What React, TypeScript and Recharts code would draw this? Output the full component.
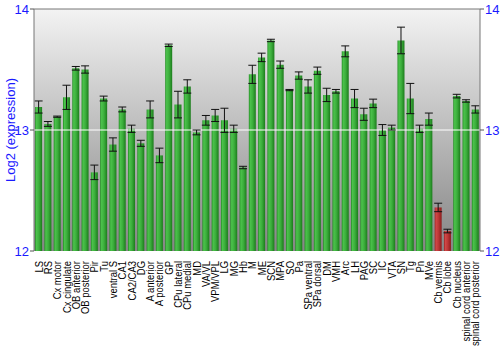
import { BarChart, Bar, XAxis, YAxis, ErrorBar, Cell, ReferenceLine, CartesianGrid } from "recharts";

const regions = [
  "LS", "RS", "Cx motor", "Cx cingulate", "OB anterior", "OB posterior", "Pir", "Tu",
  "ventral S", "CA1", "CA2/CA3", "DG", "A anterior", "A posterior", "GP", "CPu lateral",
  "CPu medial", "MD", "VA/VL", "VPM/VPL", "LG", "MG", "Hb", "M", "ME", "SCN", "MPA", "SO",
  "Pa", "SPa ventral", "SPa dorsal", "DM", "VMH", "Arc", "LH", "PAG", "SC", "IC", "VTA",
  "SN", "Tg", "Pn", "MVe", "Cb vermis", "Cb lobe", "Cb nucleus", "spinal cord anterior",
  "spinal cord posterior",
];

const expression = [
  13.19, 13.05, 13.11, 13.27, 13.51, 13.5, 12.65, 13.26,
  12.88, 13.17, 13.01, 12.89, 13.17, 12.79, 13.7, 13.21,
  13.36, 12.98, 13.08, 13.12, 13.08, 13.01, 12.69, 13.46, 13.6, 13.74, 13.54, 13.33,
  13.45, 13.36, 13.49, 13.29, 13.32, 13.65, 13.26, 13.13, 13.22, 13.0, 13.02,
  13.74, 13.26, 13.01, 13.09, 12.36, 12.165, 13.28, 13.24,
  13.17,
];

const stdErr = [
  0.05, 0.02, 0.005, 0.1, 0.015, 0.03, 0.06, 0.02,
  0.055, 0.02, 0.03, 0.025, 0.07, 0.06, 0.01, 0.11,
  0.055, 0.02, 0.04, 0.05, 0.1, 0.03, 0.01, 0.075, 0.035, 0.01, 0.03, 0.005,
  0.03, 0.055, 0.03, 0.055, 0.015, 0.045, 0.075, 0.05, 0.035, 0.045, 0.02,
  0.11, 0.125, 0.03, 0.05, 0.035, 0.015, 0.015, 0.01,
  0.03,
];

const lowRegions = ["Cb vermis", "Cb lobe"];

const yTicks = [12, 13, 14];

const data = regions.map((name, i) => ({ name, value: expression[i], err: stdErr[i] }));

const blue = "#1a1aff";
const sans = "Liberation Sans, Arial, sans-serif";

// labels in the reference are set in a narrow face; squeeze along the text direction
function RegionTick({ x, y, payload }: any) {
  return (
    <text
      x={0}
      y={0}
      transform={`translate(${x + 4},${y + 2}) rotate(-90) scale(0.86,1)`}
      textAnchor="end"
      fontSize={11}
      fill="#000"
      fontFamily={sans}
    >
      {payload.value}
    </text>
  );
}

function AxisTitle({ viewBox }: any) {
  const cx = 15;
  const cy = viewBox.y + viewBox.height / 2;
  return (
    <text
      transform={`translate(${cx},${cy}) rotate(-90)`}
      textAnchor="middle"
      fontSize={13}
      fill={blue}
      fontFamily={sans}
    >
      Log2 (expression)
    </text>
  );
}

export default function App() {
  return (
    <div style={{ position: "absolute", left: 0, top: 0, background: "#fff" }}>
      <BarChart
        width={500}
        height={350}
        data={data}
        margin={{ top: 9, right: 0, bottom: 0, left: 0 }}
        barCategoryGap="12%"
        style={{ fontFamily: sans }}
      >
        <defs>
          <linearGradient id="bgGrad" x1="0" y1="0" x2="0" y2="1">
            <stop offset="0%" stopColor="#f3f3f3" />
            <stop offset="100%" stopColor="#858585" />
          </linearGradient>
          <linearGradient id="greenGrad" x1="0" y1="0" x2="1" y2="0">
            <stop offset="0%" stopColor="#1f8a1f" />
            <stop offset="20%" stopColor="#4cc24c" />
            <stop offset="55%" stopColor="#3cae3c" />
            <stop offset="100%" stopColor="#1c7c1c" />
          </linearGradient>
          <linearGradient id="redGrad" x1="0" y1="0" x2="1" y2="0">
            <stop offset="0%" stopColor="#9a2020" />
            <stop offset="20%" stopColor="#d04848" />
            <stop offset="55%" stopColor="#bb3636" />
            <stop offset="100%" stopColor="#8a1c1c" />
          </linearGradient>
        </defs>
        <CartesianGrid fill="url(#bgGrad)" vertical={false} horizontal={false} />
        <XAxis
          dataKey="name"
          interval={0}
          height={99}
          tick={<RegionTick />}
          tickLine={false}
          axisLine={false}
        />
        <YAxis
          yAxisId="left"
          orientation="left"
          domain={[12, 14]}
          ticks={yTicks}
          width={34}
          allowDataOverflow
          tick={{ fill: blue, fontSize: 13 }}
          tickSize={4}
          tickMargin={1}
          tickLine={{ stroke: "#555" }}
          axisLine={{ stroke: "#777" }}
          label={<AxisTitle />}
        />
        <YAxis
          yAxisId="right"
          orientation="right"
          domain={[12, 14]}
          ticks={yTicks}
          width={20}
          allowDataOverflow
          tick={{ fill: blue, fontSize: 13 }}
          tickSize={4}
          tickMargin={1}
          tickLine={{ stroke: "#555" }}
          axisLine={{ stroke: "#777" }}
        />
        <ReferenceLine yAxisId="left" y={13} stroke="#ffffff" strokeWidth={1} />
        <ReferenceLine yAxisId="right" y={14} stroke="#777" strokeWidth={1} />
        <Bar yAxisId="left" dataKey="value" isAnimationActive={false} fill="url(#greenGrad)">
          {data.map((d) => (
            <Cell key={d.name} fill={lowRegions.includes(d.name) ? "url(#redGrad)" : "url(#greenGrad)"} />
          ))}
          <ErrorBar dataKey="err" width={4} stroke="#111" strokeWidth={1} />
        </Bar>
      </BarChart>
    </div>
  );
}
